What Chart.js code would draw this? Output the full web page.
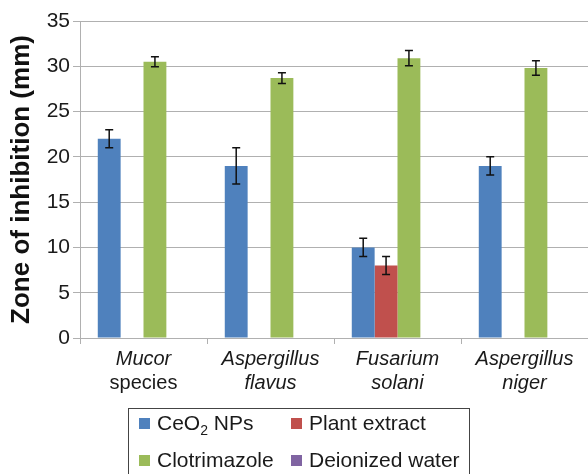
<!DOCTYPE html>
<html>
<head>
<meta charset="utf-8">
<script src="https://cdn.jsdelivr.net/npm/chart.js@4"></script>
<style>
  body { margin: 0; background: #fff; overflow: hidden; }
  #wrap { position: relative; width: 588px; height: 474px; }
  #legend {
    position: absolute; left: 128px; top: 408px; width: 342px; height: 90px;
    border: 1px solid #444; box-sizing: border-box;
    font-family: 'Liberation Sans', Arial, sans-serif; font-size: 21px; color: #1a1a1a;
  }
  .item { position: absolute; display: flex; align-items: center; white-space: nowrap; }
  .sw { width: 11px; height: 11px; margin-right: 7px; flex: none; }
  sub { font-size: 14px; line-height: 0; vertical-align: -5px; }
</style>
</head>
<body>
<div id="wrap">
  <canvas id="c" width="588" height="474"></canvas>
  <div id="legend"></div>
</div>
<script>
// ─── data ─────────────────────────────────────────────
const CATEGORIES = [['Mucor', 'species'], ['Aspergillus', 'flavus'], ['Fusarium', 'solani'], ['Aspergillus', 'niger']];
const CAT_ITALIC = [[true, false], [true, true], [true, true], [true, true]];

const SERIES     = ['CeO₂ NPs', 'Plant extract', 'Clotrimazole', 'Deionized water'];
const CEO2       = [22, 19, 10, 19];
const CEO2_ERR   = [1, 2, 1, 1];
const PLANT      = [0, 0, 8, 0];
const PLANT_ERR  = [0, 0, 1, 0];
const CLOTRI     = [30.5, 28.7, 30.9, 29.8];
const CLOTRI_ERR = [0.55, 0.6, 0.85, 0.8];
const WATER      = [0, 0, 0, 0];
const WATER_ERR  = [0, 0, 0, 0];

const Y_MIN = 0, Y_MAX = 35, Y_STEP = 5;

const COLORS = ['#4f81bd', '#c0504d', '#9bbb59', '#8064a2'];
const FONT = "'Liberation Sans', Arial, sans-serif";
const GRID = '#b0b0b0';

// ─── error bars ───────────────────────────────────────
const errorBars = {
    id: 'errorBars',
    afterDatasetsDraw(chart) {
        const ctx = chart.ctx;
        const y = chart.scales.y;
        ctx.save();
        ctx.strokeStyle = '#111';
        ctx.lineWidth = 1.5;
        chart.data.datasets.forEach((ds, i) => {
            const meta = chart.getDatasetMeta(i);
            meta.data.forEach((bar, j) => {
                const e = ds.errors[j];
                if (!e) return;
                const v = ds.data[j];
                const top = y.getPixelForValue(v + e);
                const bot = y.getPixelForValue(v - e);
                const x = bar.x;
                ctx.beginPath();
                ctx.moveTo(x, top); ctx.lineTo(x, bot);
                ctx.moveTo(x - 4, top); ctx.lineTo(x + 4, top);
                ctx.moveTo(x - 4, bot); ctx.lineTo(x + 4, bot);
                ctx.stroke();
            });
        });
        ctx.restore();
    }
};

// ─── category labels (mixed italic) ───────────────────
const catLabels = {
    id: 'catLabels',
    afterDraw(chart) {
        const ctx = chart.ctx;
        const x = chart.scales.x;
        ctx.save();
        ctx.fillStyle = '#1a1a1a';
        ctx.textAlign = 'center';
        ctx.textBaseline = 'middle';
        CATEGORIES.forEach((lines, i) => {
            const cx = x.getPixelForValue(i);
            lines.forEach((t, k) => {
                ctx.font = (CAT_ITALIC[i][k] ? 'italic ' : '') + '20px ' + FONT;
                ctx.fillText(t, cx, x.top + 21 + k * 24);
            });
        });
        ctx.restore();
    }
};

const errs = [CEO2_ERR, PLANT_ERR, CLOTRI_ERR, WATER_ERR];
const datasets = [CEO2, PLANT, CLOTRI, WATER].map((d, i) => ({
    label: SERIES[i],
    data: d,
    errors: errs[i],
    backgroundColor: COLORS[i],
    borderWidth: 0,
    categoryPercentage: 0.72,
    barPercentage: 1.0
}));

new Chart(document.getElementById('c'), {
    type: 'bar',
    data: { labels: CATEGORIES.map(l => l.join(' ')), datasets },
    options: {
        responsive: false,
        animation: false,
        layout: { padding: { top: 21, right: 0, bottom: 76, left: 0 } },
        plugins: { legend: { display: false }, tooltip: { enabled: false } },
        scales: {
            x: {
                ticks: { display: false },
                grid: { drawOnChartArea: false, drawTicks: true, tickLength: 6, color: GRID },
                border: { color: GRID },
                afterFit: s => { s.height = 60; }
            },
            y: {
                min: Y_MIN, max: Y_MAX,
                ticks: { stepSize: Y_STEP, color: '#1a1a1a', padding: 3, font: { family: FONT, size: 21 } },
                grid: { color: GRID, tickLength: 7 },
                border: { color: GRID },
                title: {
                    display: true, text: 'Zone of inhibition (mm)', color: '#111',
                    font: { family: FONT, size: 26, weight: 'bold' }, padding: { top: 6, bottom: 0 }
                },
                afterFit: s => { s.width = 80; }
            }
        }
    },
    plugins: [errorBars, catLabels]
});

// ─── legend (2 x 2 box) ───────────────────────────────
const legend = document.getElementById('legend');
const pos = [[10, 15], [162, 15], [10, 52], [162, 52]];
SERIES.forEach((name, i) => {
    const el = document.createElement('div');
    el.className = 'item';
    el.style.left = pos[i][0] + 'px';
    el.style.top = (pos[i][1] - 13) + 'px';
    el.innerHTML = '<span class="sw" style="background:' + COLORS[i] + '"></span>' +
        '<span>' + name.replace('₂', '<sub>2</sub>') + '</span>';
    legend.appendChild(el);
});
</script>
</body>
</html>
